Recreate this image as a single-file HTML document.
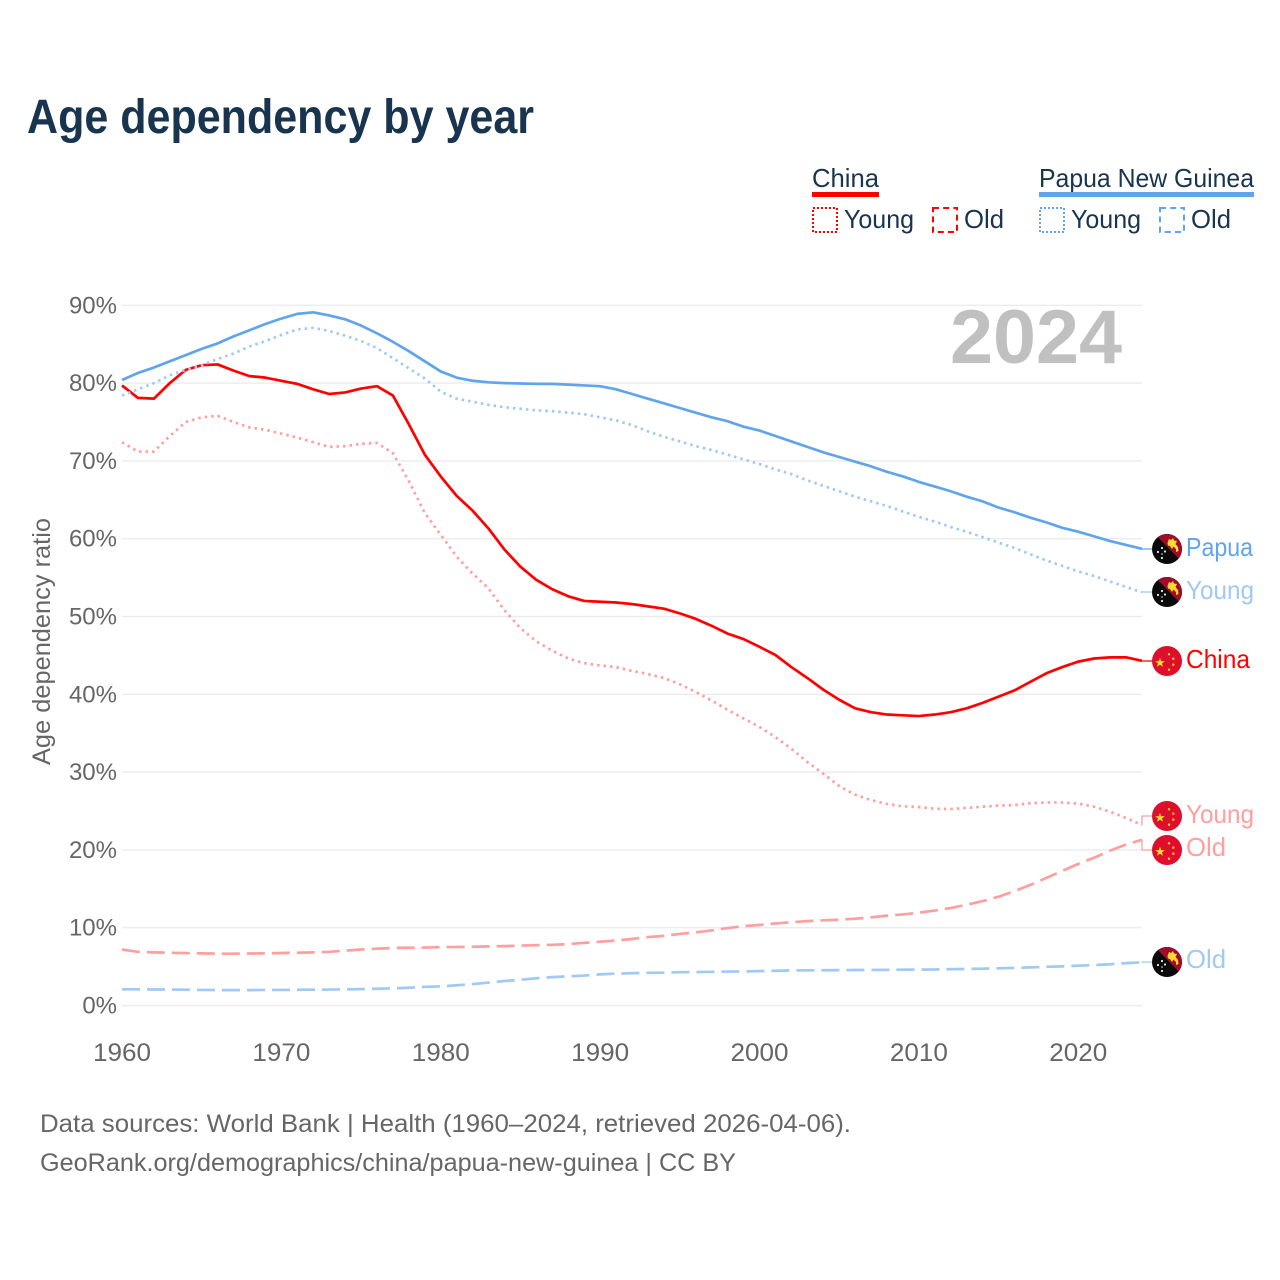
<!DOCTYPE html>
<html lang="en">
<head>
<meta charset="utf-8">
<title>Age dependency by year</title>
<style>
html,body{margin:0;padding:0;background:#fff;}
svg{display:block;font-family:"Liberation Sans",sans-serif;}
</style>
</head>
<body>
<svg id="chart" xmlns="http://www.w3.org/2000/svg" width="1280" height="1280" viewBox="0 0 1280 1280">
<defs>
<clipPath id="flag-clip"><circle cx="0" cy="0" r="15"/></clipPath>
<g id="flag-cn">
<circle r="15" fill="#de0f2c"/>
<polygon points="-7,-3.300 -5.800,0.100 -2.200,0.200 -5,2.400 -4,5.800 -7,3.800 -10,5.800 -9,2.400 -11.800,0.200 -8.200,0.100" fill="#fcd930"/>
<circle cx="2" cy="-6.700" r="1.200" fill="#fcd930"/><circle cx="6.300" cy="-2.300" r="1.200" fill="#fcd930"/><circle cx="6.300" cy="3.700" r="1.200" fill="#fcd930"/><circle cx="2" cy="8.700" r="1.200" fill="#fcd930"/>
</g>
<g id="flag-pg" clip-path="url(#flag-clip)">
<rect x="-15" y="-15" width="30" height="30" fill="#0a0a0a"/>
<polygon points="-12,-15 15,-15 15,13" fill="#a00d28"/>
<path d="M0.500,-6 L2,-10 L4,-9 L6,-11 L7,-8.500 L10,-8 L8.500,-5 L11,-2 L11.500,2 L9,3 L9,0 L6.500,-2.500 L5,0 L3,-3 L1,-3.500 Z" fill="#fcd930"/>
<circle cx="-5" cy="-1" r="1.100" fill="#e8e8e8"/><circle cx="-2" cy="2.500" r="1.100" fill="#e8e8e8"/><circle cx="-9" cy="3" r="1.100" fill="#e8e8e8"/><circle cx="-5" cy="5" r="0.800" fill="#e8e8e8"/><circle cx="-5" cy="9" r="1.100" fill="#e8e8e8"/>
</g>
</defs>

<text x="27" y="133" font-size="48" font-weight="700" fill="#18344f" textLength="507" lengthAdjust="spacingAndGlyphs">Age dependency by year</text>

<g>
<g>
<text x="812" y="187" font-size="26" fill="#18344f" textLength="67" lengthAdjust="spacingAndGlyphs">China</text>
<rect x="812" y="192" width="67" height="5" fill="#ff0000"/>
<rect x="813" y="208" width="24" height="24" fill="none" stroke="#ff0000" stroke-width="2" stroke-dasharray="2 2"/>
<text x="844" y="228" font-size="26" fill="#18344f" textLength="70" lengthAdjust="spacingAndGlyphs">Young</text>
<rect x="933" y="208" width="24" height="24" fill="none" stroke="#ff0000" stroke-width="2" stroke-dasharray="6 4.200"/>
<text x="964" y="228" font-size="26" fill="#18344f" textLength="40" lengthAdjust="spacingAndGlyphs">Old</text>
</g>
<g>
<text x="1039" y="187" font-size="26" fill="#18344f" textLength="215" lengthAdjust="spacingAndGlyphs">Papua New Guinea</text>
<rect x="1039" y="192" width="215" height="5" fill="#60a5ec"/>
<rect x="1040" y="208" width="24" height="24" fill="none" stroke="#60a5ec" stroke-width="2" stroke-dasharray="2 2"/>
<text x="1071" y="228" font-size="26" fill="#18344f" textLength="70" lengthAdjust="spacingAndGlyphs">Young</text>
<rect x="1160" y="208" width="24" height="24" fill="none" stroke="#60a5ec" stroke-width="2" stroke-dasharray="6 4.200"/>
<text x="1191" y="228" font-size="26" fill="#18344f" textLength="40" lengthAdjust="spacingAndGlyphs">Old</text>
</g>
</g>

<g id="grid"></g>
<g id="y-axis"></g>
<g id="x-axis"></g>

<text transform="translate(50,641.500) rotate(-90)" text-anchor="middle" font-size="25" fill="#666666" textLength="247" lengthAdjust="spacingAndGlyphs">Age dependency ratio</text>

<text x="950" y="363" font-size="76" font-weight="700" fill="#c0c0c0" textLength="172" lengthAdjust="spacingAndGlyphs">2024</text>

<g id="series"></g>
<g id="connectors"></g>

<g>
<use href="#flag-pg" x="1167" y="549"/>
<text x="1186" y="556" font-size="26" fill="#60a5ec" textLength="67" lengthAdjust="spacingAndGlyphs">Papua</text>
<use href="#flag-pg" x="1167" y="592"/>
<text x="1186" y="599" font-size="26" fill="#a0c9f4" textLength="68" lengthAdjust="spacingAndGlyphs">Young</text>
<use href="#flag-cn" x="1167" y="661"/>
<text x="1186" y="668" font-size="26" fill="#ff0000" textLength="64" lengthAdjust="spacingAndGlyphs">China</text>
<use href="#flag-cn" x="1167" y="816"/>
<text x="1186" y="823" font-size="26" fill="#ff9f9f" textLength="68" lengthAdjust="spacingAndGlyphs">Young</text>
<use href="#flag-cn" x="1167" y="850"/>
<text x="1186" y="856" font-size="26" fill="#ff9f9f" textLength="40" lengthAdjust="spacingAndGlyphs">Old</text>
<use href="#flag-pg" x="1167" y="962"/>
<text x="1186" y="968" font-size="26" fill="#a0c9f4" textLength="40" lengthAdjust="spacingAndGlyphs">Old</text>
</g>

<text x="40" y="1132" font-size="25" fill="#666666" textLength="811" lengthAdjust="spacingAndGlyphs">Data sources: World Bank | Health (1960–2024, retrieved 2026-04-06).</text>
<text x="40" y="1171" font-size="25" fill="#666666" textLength="696" lengthAdjust="spacingAndGlyphs">GeoRank.org/demographics/china/papua-new-guinea | CC BY</text>
</svg>

<script>
var years = [1960,1961,1962,1963,1964,1965,1966,1967,1968,1969,1970,1971,1972,1973,1974,1975,1976,1977,1978,1979,1980,1981,1982,1983,1984,1985,1986,1987,1988,1989,1990,1991,1992,1993,1994,1995,1996,1997,1998,1999,2000,2001,2002,2003,2004,2005,2006,2007,2008,2009,2010,2011,2012,2013,2014,2015,2016,2017,2018,2019,2020,2021,2022,2023,2024];
var chinaTotal = [79.7,78.1,78.0,80.0,81.7,82.3,82.4,81.6,80.9,80.7,80.3,79.9,79.2,78.6,78.8,79.3,79.6,78.4,74.7,70.8,68.0,65.5,63.6,61.3,58.6,56.4,54.7,53.5,52.6,52.0,51.9,51.8,51.6,51.3,51.0,50.4,49.7,48.8,47.8,47.1,46.1,45.05,43.5,42.1,40.6,39.3,38.2,37.7,37.4,37.3,37.2,37.4,37.7,38.2,38.9,39.7,40.5,41.6,42.7,43.5,44.2,44.6,44.75,44.75,44.3];
var chinaYoung = [72.4,71.2,71.2,73.2,75.0,75.6,75.8,75.0,74.3,74.0,73.5,73.0,72.4,71.8,71.9,72.2,72.3,71.0,67.4,63.3,60.5,57.7,55.5,53.6,50.8,48.5,46.8,45.6,44.6,44.0,43.7,43.5,43.0,42.6,42.1,41.3,40.3,39.2,38.0,36.9,35.8,34.5,33.0,31.3,29.8,28.2,27.1,26.4,25.9,25.6,25.5,25.3,25.25,25.4,25.55,25.7,25.75,26.0,26.1,26.1,25.95,25.55,24.9,24.1,23.2];
var chinaOld = [7.2,6.9,6.83,6.78,6.74,6.7,6.66,6.66,6.68,6.7,6.75,6.78,6.83,6.9,7.05,7.2,7.3,7.4,7.42,7.45,7.5,7.53,7.55,7.6,7.63,7.7,7.75,7.8,7.9,8.05,8.2,8.35,8.55,8.8,8.95,9.2,9.4,9.65,9.95,10.2,10.35,10.55,10.7,10.85,10.95,11.03,11.15,11.33,11.55,11.7,11.93,12.2,12.53,12.95,13.43,13.98,14.7,15.5,16.4,17.3,18.2,19.0,19.9,20.7,21.3];
var pngTotal = [80.4,81.3,82.0,82.8,83.6,84.4,85.1,86.0,86.8,87.6,88.3,88.9,89.1,88.7,88.2,87.4,86.4,85.3,84.1,82.8,81.5,80.7,80.3,80.1,80.0,79.95,79.9,79.9,79.8,79.7,79.6,79.2,78.6,78.0,77.4,76.8,76.2,75.6,75.1,74.4,73.9,73.2,72.5,71.8,71.1,70.5,69.9,69.3,68.6,68.0,67.3,66.7,66.1,65.4,64.8,64.0,63.4,62.7,62.1,61.4,60.9,60.3,59.7,59.2,58.7];
var pngYoung = [78.4,79.2,80.0,81.0,81.7,82.3,83.1,83.8,84.7,85.4,86.2,86.9,87.1,86.7,86.1,85.4,84.5,83.2,81.9,80.6,78.9,78.0,77.6,77.2,76.9,76.7,76.5,76.4,76.2,76.0,75.6,75.2,74.6,73.8,73.1,72.5,71.9,71.4,70.8,70.2,69.6,68.9,68.3,67.5,66.8,66.1,65.4,64.8,64.2,63.5,62.8,62.2,61.5,60.9,60.2,59.5,58.8,58.0,57.2,56.5,55.8,55.2,54.5,53.8,53.1];
var pngOld = [2.08,2.08,2.06,2.05,2.03,2.0,1.98,1.98,1.98,2.0,2.0,2.02,2.03,2.05,2.07,2.1,2.15,2.2,2.28,2.4,2.45,2.6,2.75,2.95,3.15,3.3,3.5,3.65,3.75,3.85,4.0,4.1,4.15,4.2,4.22,4.28,4.3,4.33,4.36,4.38,4.42,4.47,4.5,4.52,4.53,4.55,4.56,4.57,4.58,4.6,4.62,4.63,4.67,4.7,4.73,4.78,4.83,4.9,4.97,5.03,5.12,5.2,5.3,5.45,5.55];
var yTicks = [0,10,20,30,40,50,60,70,80,90];
var yTickLabels = ["0%","10%","20%","30%","40%","50%","60%","70%","80%","90%"];
var xTicks = [1960,1970,1980,1990,2000,2010,2020];
var xTickLabels = ["1960","1970","1980","1990","2000","2010","2020"];

var NS = "http://www.w3.org/2000/svg";
function xScale(year) { return 122 + (year - 1960) * 15.9375; }
function yScale(value) { return 1005.5 - value * 7.78; }

var gridLayer = document.getElementById("grid");
var yLayer = document.getElementById("y-axis");
var xLayer = document.getElementById("x-axis");
var seriesLayer = document.getElementById("series");
var connectorLayer = document.getElementById("connectors");

yTicks.forEach(function (tick, i) {
  var line = document.createElementNS(NS, "line");
  
  
  line.setAttribute("x1", 122);
  line.setAttribute("x2", 1142);
  line.setAttribute("y1", yScale(tick));
  line.setAttribute("y2", yScale(tick));
  line.setAttribute("stroke", "#ececec");
  line.setAttribute("stroke-width", "1.4");
  gridLayer.appendChild(line);

  var label = document.createElementNS(NS, "text");
  
  
  label.setAttribute("x", 117);
  label.setAttribute("y", yScale(tick) + 8);
  label.setAttribute("text-anchor", "end");
  label.setAttribute("font-size", "24");
  label.setAttribute("fill", "#666666");
  label.textContent = yTickLabels[i];
  yLayer.appendChild(label);
});

xTicks.forEach(function (tick, i) {
  var label = document.createElementNS(NS, "text");
  
  
  label.setAttribute("x", xScale(tick));
  label.setAttribute("y", 1061);
  label.setAttribute("text-anchor", "middle");
  label.setAttribute("font-size", "25");
  label.setAttribute("fill", "#666666");
  label.setAttribute("textLength", "58");
  label.setAttribute("lengthAdjust", "spacingAndGlyphs");
  label.textContent = xTickLabels[i];
  xLayer.appendChild(label);
});

function drawSeries(name, values, color, dash, width) {
  var d = values.map(function (v, i) {
    return (i ? "L" : "M") + xScale(years[i]).toFixed(2) + "," + yScale(v).toFixed(2);
  }).join(" ");
  var path = document.createElementNS(NS, "path");
  
  
  path.setAttribute("d", d);
  path.setAttribute("fill", "none");
  path.setAttribute("stroke", color);
  path.setAttribute("stroke-width", width);
  path.setAttribute("stroke-linejoin", "round");
  if (dash) path.setAttribute("stroke-dasharray", dash);
  seriesLayer.appendChild(path);
}

function drawConnector(name, values, color, labelY) {
  var endY = yScale(values[values.length - 1]);
  var path = document.createElementNS(NS, "path");
  
  
  path.setAttribute("d", "M1142," + endY.toFixed(2) + " L1142," + labelY + " L1153," + labelY);
  path.setAttribute("fill", "none");
  path.setAttribute("stroke", color);
  path.setAttribute("stroke-width", "1.3");
  connectorLayer.appendChild(path);
}

drawSeries("line-china-old", chinaOld, "#ff9f9f", "18 7", 2.7);
drawSeries("line-papua-old", pngOld, "#a0c9f4", "18 7", 2.7);
drawSeries("line-china-young", chinaYoung, "#ff9f9f", "2.5 4", 2.7);
drawSeries("line-china-total", chinaTotal, "#ff0000", "", 2.7);
drawSeries("line-papua-young", pngYoung, "#a0c9f4", "2.5 4", 2.7);
drawSeries("line-papua-total", pngTotal, "#60a5ec", "", 2.7);

drawConnector("connector-papua-total", pngTotal, "#60a5ec", 549);
drawConnector("connector-papua-young", pngYoung, "#a0c9f4", 592);
drawConnector("connector-china-total", chinaTotal, "#ff0000", 661);
drawConnector("connector-china-young", chinaYoung, "#ff9f9f", 816);
drawConnector("connector-china-old", chinaOld, "#ff9f9f", 850);
drawConnector("connector-papua-old", pngOld, "#a0c9f4", 962);
</script>
</body>
</html>
